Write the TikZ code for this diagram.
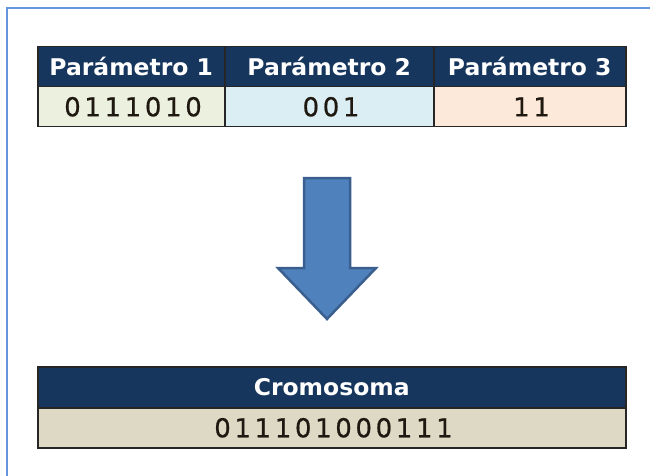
\documentclass[tikz,border=0pt]{standalone}
\usepackage{fontspec}
\newfontfamily\headfont{DejaVu Sans}[FakeStretch=1.02]
\newfontfamily\bitfont{DejaVu Sans}[LetterSpace=14, FakeBold=0.6]

\definecolor{navy}{HTML}{17365D}
\definecolor{fillA}{HTML}{EBF1DE}
\definecolor{fillB}{HTML}{DAEEF3}
\definecolor{fillC}{HTML}{FDE9D9}
\definecolor{fillD}{HTML}{DDD9C4}
\definecolor{arrowfill}{HTML}{4F81BD}
\definecolor{arrowline}{HTML}{3A5F8E}
\definecolor{framecol}{HTML}{6496DC}
\definecolor{bitcol}{HTML}{1E1810}

\tikzset{
  cell/.style={draw=black!85, line width=1.5pt, inner sep=0pt, anchor=north west,
               minimum height=40pt},
  headcell/.style={cell, fill=navy, text=white,
                   font=\headfont\bfseries\fontsize{23}{27}\selectfont,
                   text height=16.8pt, text depth=0pt},
  bitcell/.style={cell, text=bitcol,
                  font=\bitfont\fontsize{26}{30}\selectfont,
                  text height=19pt, text depth=0pt},
}

\begin{document}
\begin{tikzpicture}[x=1pt, y=-1pt]
  \useasboundingbox (0,0) rectangle (650,476);
  \fill[white] (0,0) rectangle (650,476);

  % outer frame (left and top edges)
  \draw[framecol, line width=2pt] (7,476) -- (7,8) -- (650,8);

  % parameter table
  \node[headcell, minimum width=187pt] (h1) at (37,46) {Parámetro 1};
  \node[headcell, minimum width=209pt] (h2) at (224,46) {Parámetro 2};
  \node[headcell, minimum width=192pt] (h3) at (433,46) {Parámetro 3};
  \node[bitcell, fill=fillA, minimum width=187pt] (v1) at (37,86) {\hspace{3.6pt}0111010};
  \node[bitcell, fill=fillB, minimum width=209pt] (v2) at (224,86) {\hspace{3.6pt}001};
  \node[bitcell, fill=fillC, minimum width=192pt] (v3) at (433,86) {\hspace{3.6pt}11};

  % block arrow
  \draw[arrowline, fill=arrowfill, line width=2.5pt, line join=miter]
    (304,178) -- (350,178) -- (350,268) -- (376,268) -- (327,319)
    -- (278,268) -- (304,268) -- cycle;

  % chromosome table
  \node[headcell, minimum width=588pt, minimum height=41pt] (ch) at (37,366) {Cromosoma};
  \node[bitcell, fill=fillD, minimum width=588pt] (cv) at (37,407) {\hspace{3.6pt}011101000111};
\end{tikzpicture}
\end{document}
